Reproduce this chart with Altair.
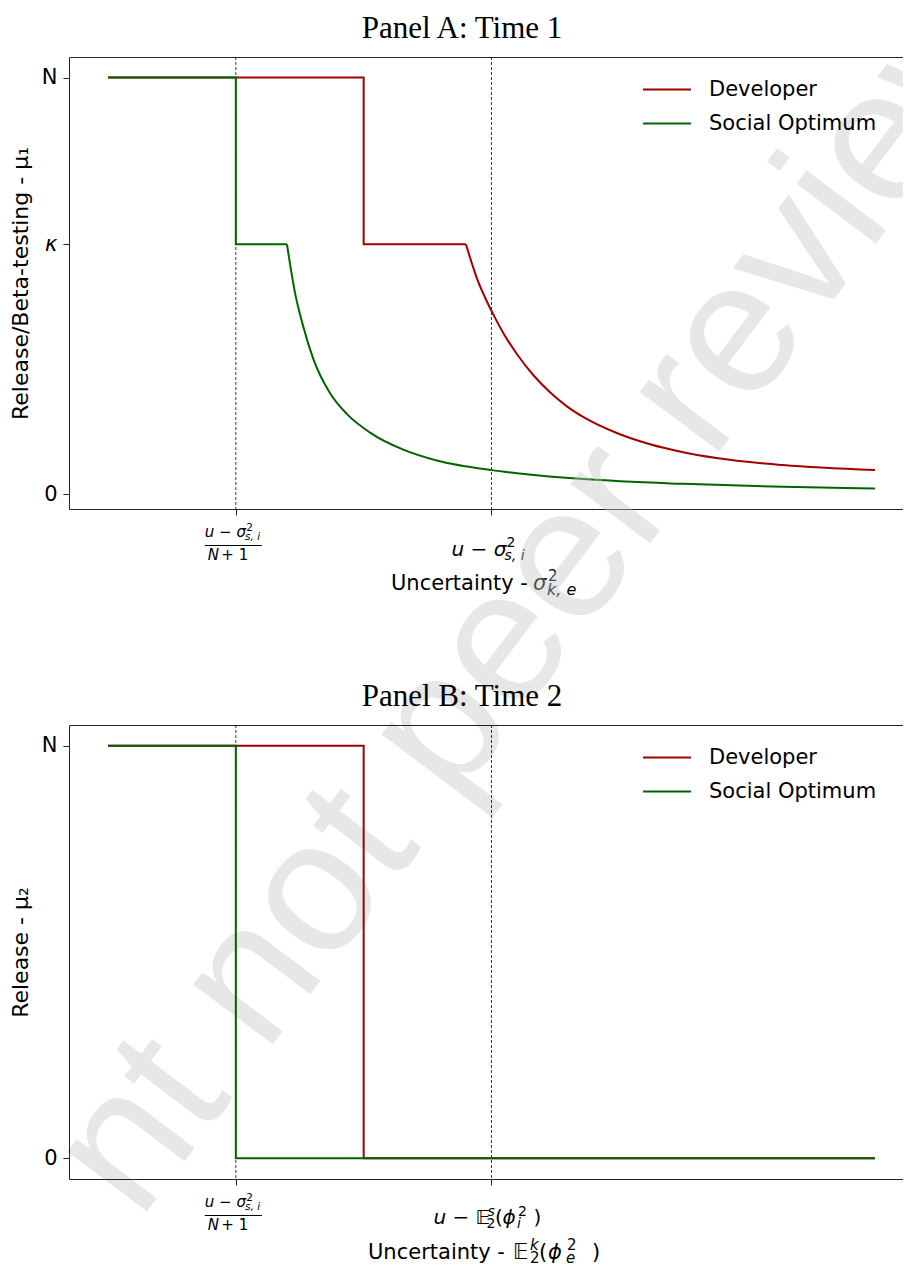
import math
import altair as alt
import pandas as pd

# ---------------- data ----------------
series_names = ["Developer", "Social Optimum"]
series_colors = ["#a00000", "#006400"]

# Panel A (Time 1) - flat/step parts
a_dev_step_x = [0.0, 1.0, 1.0, 1.40]
a_dev_step_y = [1.0, 1.0, 0.6, 0.6]
a_soc_step_x = [0.0, 0.5, 0.5, 0.70]
a_soc_step_y = [1.0, 1.0, 0.6, 0.6]
# Panel A - decaying parts
a_dev_curve_x = [1.40, 1.442, 1.50, 1.55, 1.60, 1.665, 1.73, 1.795, 1.86, 1.99, 2.12, 2.25, 2.38, 2.64, 3.00]
a_dev_curve_y = [0.600, 0.520, 0.440, 0.383, 0.336, 0.285, 0.244, 0.211, 0.185, 0.147, 0.120, 0.101, 0.087, 0.070, 0.058]
a_soc_curve_x = [0.70, 0.718, 0.731, 0.764, 0.803, 0.868, 0.934, 1.025, 1.155, 1.286, 1.50, 1.61, 1.86, 2.25, 2.64, 3.00]
a_soc_curve_y = [0.600, 0.530, 0.485, 0.402, 0.325, 0.243, 0.193, 0.148, 0.107, 0.081, 0.058, 0.050, 0.0365, 0.025, 0.018, 0.014]

# Panel B (Time 2)
b_dev_x = [0.0, 1.0, 1.0, 3.0]
b_dev_y = [1.0, 1.0, 0.0, 0.0]
b_soc_x = [0.0, 0.5, 0.5, 3.0]
b_soc_y = [1.0, 1.0, 0.0, 0.0]

ref_x = [0.5, 1.5]
a_y_ticks = [0.0, 0.6, 1.0]
a_y_labels = ["0", "κ", "N"]
b_y_ticks = [0.0, 1.0]
b_y_labels = ["0", "N"]

watermark = "Preprint not peer reviewed"

# ---------------- layout / style ----------------
FONT = "DejaVu Sans"
W = 834
HA = 452
HB = 454
GAP = 216
x_dom = [-0.1525, -0.1525 + W / 255.67]
xscale = alt.Scale(domain=x_dom, nice=False, zero=False)
yscale_a = alt.Scale(domain=[-0.0353, 1.0493], nice=False, zero=False)
yscale_b = alt.Scale(domain=[-0.05, 1.05], nice=False, zero=False)

# watermark geometry (page space, plot A origin at (69, 58))
WM_SIZE = 188
WM_ANGLE = 307
WM_CENTER = (456, 709)
ARIAL = {"P": 667, "r": 333, "e": 556, "p": 556, "i": 222, "n": 556, "t": 278,
         " ": 278, "o": 556, "v": 500, "w": 722, "d": 556}
A_ORIGIN = (69, 58)
B_ORIGIN = (69, 58 + HA + GAP)


def em(s):
    return sum(ARIAL[c] for c in s) / 1000.0


_dx = math.cos(math.radians(WM_ANGLE))
_dy = math.sin(math.radians(WM_ANGLE))
_half = em(watermark) / 2 * WM_SIZE
WM_START = (WM_CENTER[0] - _half * _dx, WM_CENTER[1] - _half * _dy)


def long_df(parts):
    rows = []
    for name, xs, ys in parts:
        for i, (x, y) in enumerate(zip(xs, ys)):
            rows.append({"series": name, "x": x, "y": y, "order": i})
    return pd.DataFrame(rows)


def label_expr(ticks, labels):
    expr = "''"
    for t, l in zip(ticks, labels):
        expr = f"datum.value == {t} ? '{l}' : ({expr})"
    return expr


legend = alt.Legend(
    title=None, orient="none", legendX=587.5, legendY=22, symbolType="M-3,0H3",
    symbolSize=256, symbolStrokeWidth=2, labelFont=FONT, labelFontSize=21,
    labelColor="black", labelOffset=31.5, rowPadding=12, padding=0, labelLimit=0,
)
color = alt.Color("series:N", scale=alt.Scale(domain=series_names, range=series_colors), legend=legend)


def y_axis(ticks, labels, title, H):
    return alt.Axis(
        values=ticks, labelExpr=label_expr(ticks, labels),
        labelFontStyle={"condition": {"test": "datum.value == 0.6", "value": "italic"}, "value": "normal"},
        labelFontSize=21, labelFont=FONT, labelColor="black", labelPadding=6,
        tickSize=6, grid=False, domain=True,
        title=title, titleFont=FONT, titleFontSize=22, titleFontWeight="normal",
        titleColor="black", titleAngle=270, titleBaseline="bottom", titleAlign="center",
        titleX=-37, titleY=H / 2,
    )


bottom_axis = alt.Axis(orient="bottom", values=ref_x, labels=False, ticks=True, tickSize=6,
                       title=None, grid=False, domain=True)
top_axis = alt.Axis(orient="top", labels=False, ticks=False, title=None, grid=False, domain=True)


def text_at_tick(xval, text, dx, y, size, italic):
    df = pd.DataFrame({"x": [xval], "label": [text]})
    return alt.Chart(df).mark_text(
        align="left", baseline="alphabetic", dx=dx, font=FONT, fontSize=size,
        fontStyle="italic" if italic else "normal", color="black",
    ).encode(x=alt.X("x:Q", scale=xscale, axis=None), y=alt.value(y), text="label:N")


def text_at_px(px, text, y, size, italic):
    df = pd.DataFrame({"label": [text]})
    return alt.Chart(df).mark_text(
        align="left", baseline="alphabetic", font=FONT, fontSize=size,
        fontStyle="italic" if italic else "normal", color="black",
    ).encode(x=alt.value(px), y=alt.value(y), text="label:N")


def fraction_label(H):
    t = ref_x[0]
    layers = [
        text_at_tick(t, "u − σ", -31, H + 28, 15, True),
        text_at_tick(t, "2", 10.5, H + 21.5, 10.5, False),
        text_at_tick(t, "s, i", 9.3, H + 31, 10.5, True),
        text_at_tick(t, "N", -28, H + 50.5, 15, True),
        text_at_tick(t, " + 1", -14.5, H + 50.5, 15, False),
    ]
    bar = alt.Chart(pd.DataFrame({"x": [t]})).mark_rule(
        xOffset=-31, x2Offset=26, strokeWidth=1.2, color="black"
    ).encode(x=alt.X("x:Q", scale=xscale, axis=None), x2="x:Q", y=alt.value(H + 36.5))
    return layers + [bar]


def watermark_piece(prefix, piece, origin, clip):
    """Part of the diagonal watermark, starting after `prefix` along the text line."""
    off = em(prefix) * WM_SIZE
    px = WM_START[0] + off * _dx - origin[0]
    py = WM_START[1] + off * _dy - origin[1]
    df = pd.DataFrame({"label": [piece]})
    return alt.Chart(df).mark_text(
        align="left", baseline="middle", angle=WM_ANGLE, font="Liberation Sans",
        fontSize=WM_SIZE, color="#c4c4c4", opacity=0.4, clip=clip,
    ).encode(x=alt.value(px), y=alt.value(py), text="label:N")


def panel(step_df, curve_df, yscale, yticks, ylabels, ytitle, H, title, extra):
    rules = alt.Chart(pd.DataFrame({"x": ref_x})).mark_rule(
        strokeDash=[3, 2], strokeWidth=0.8, color="black"
    ).encode(x=alt.X("x:Q", scale=xscale, axis=top_axis))
    steps = alt.Chart(step_df).mark_line(strokeWidth=2).encode(
        x=alt.X("x:Q", scale=xscale, axis=bottom_axis),
        y=alt.Y("y:Q", scale=yscale, axis=y_axis(yticks, ylabels, ytitle, H)),
        color=color, order="order:Q",
    )
    layers = [rules, steps]
    if curve_df is not None:
        curves = alt.Chart(curve_df).mark_line(strokeWidth=2, interpolate="monotone").encode(
            x=alt.X("x:Q", scale=xscale, axis=None),
            y=alt.Y("y:Q", scale=yscale, axis=None),
            color=color, order="order:Q",
        )
        layers.append(curves)
    layers += extra
    return alt.layer(*layers).resolve_axis(x="independent", y="independent").properties(
        width=W, height=H,
        title=alt.TitleParams(title, dx=-24, offset=-12, baseline="alphabetic"),
    )


# ---------- Panel A ----------
a_step = long_df([("Developer", a_dev_step_x, a_dev_step_y), ("Social Optimum", a_soc_step_x, a_soc_step_y)])
a_curve = long_df([("Developer", a_dev_curve_x, a_dev_curve_y), ("Social Optimum", a_soc_curve_x, a_soc_curve_y)])
t1 = ref_x[1]
a_extra = fraction_label(HA) + [
    text_at_tick(t1, "u − σ", -40, HA + 47, 20, True),
    text_at_tick(t1, "2", 15, HA + 38, 14, False),
    text_at_tick(t1, "s, i", 13, HA + 51, 14, True),
    text_at_px(322, "Uncertainty - ", HA + 81, 21, False),
    text_at_px(464, "σ", HA + 81, 21, True),
    text_at_px(479, "2", HA + 72, 15, False),
    text_at_px(478, "k,  e", HA + 86, 16, True),
    watermark_piece("Preprint not peer ", "reviewed", A_ORIGIN, True),
    watermark_piece("Prepri", "nt not peer", A_ORIGIN, False),
]
panel_a = panel(a_step, a_curve, yscale_a, a_y_ticks, a_y_labels,
                "Release/Beta-testing - μ₁", HA, "Panel A: Time 1", a_extra)

# ---------- Panel B ----------
b_step = long_df([("Developer", b_dev_x, b_dev_y), ("Social Optimum", b_soc_x, b_soc_y)])
b_extra = fraction_label(HB) + [
    text_at_tick(t1, "u − ", -58, HB + 45, 20, True),
    text_at_tick(t1, "𝔼", -16, HB + 45, 20, False),
    text_at_tick(t1, "s", -4, HB + 37, 14, True),
    text_at_tick(t1, "2", -5, HB + 49, 14, False),
    text_at_tick(t1, "(", 3.5, HB + 45, 20, False),
    text_at_tick(t1, "ϕ", 11, HB + 45, 20, True),
    text_at_tick(t1, "2", 26.5, HB + 37, 14, False),
    text_at_tick(t1, "i", 25.5, HB + 49, 14, True),
    text_at_tick(t1, ")", 42, HB + 45, 20, False),
    text_at_px(299, "Uncertainty - ", HB + 80, 21, False),
    text_at_px(444, "𝔼", HB + 80, 21, False),
    text_at_px(461, "k", HB + 71, 15, True),
    text_at_px(461, "2", HB + 84, 15, False),
    text_at_px(470, "(", HB + 80, 21, False),
    text_at_px(479, "ϕ", HB + 80, 21, True),
    text_at_px(498, "2", HB + 71, 15, False),
    text_at_px(497, "e", HB + 84, 15, True),
    text_at_px(523, ")", HB + 80, 21, False),
    watermark_piece("", "Prepri", B_ORIGIN, True),
]
panel_b = panel(b_step, None, yscale_b, b_y_ticks, b_y_labels,
                "Release - μ₂", HB, "Panel B: Time 2", b_extra)

chart = alt.vconcat(panel_a, panel_b, spacing=GAP, bounds="flush").resolve_scale(color="independent").properties(
    padding={"left": 8, "top": 12, "right": 0, "bottom": 0}
).configure_view(stroke=None).configure_axis(
    domainColor="#222222", tickColor="#222222", domainWidth=1, tickWidth=1,
    minExtent=0, maxExtent=200,
).configure_title(
    font="Liberation Serif", fontSize=31, fontWeight="normal", color="black", anchor="middle",
)

chart.save("out.html", embed_options={"renderer": "svg", "actions": False})
